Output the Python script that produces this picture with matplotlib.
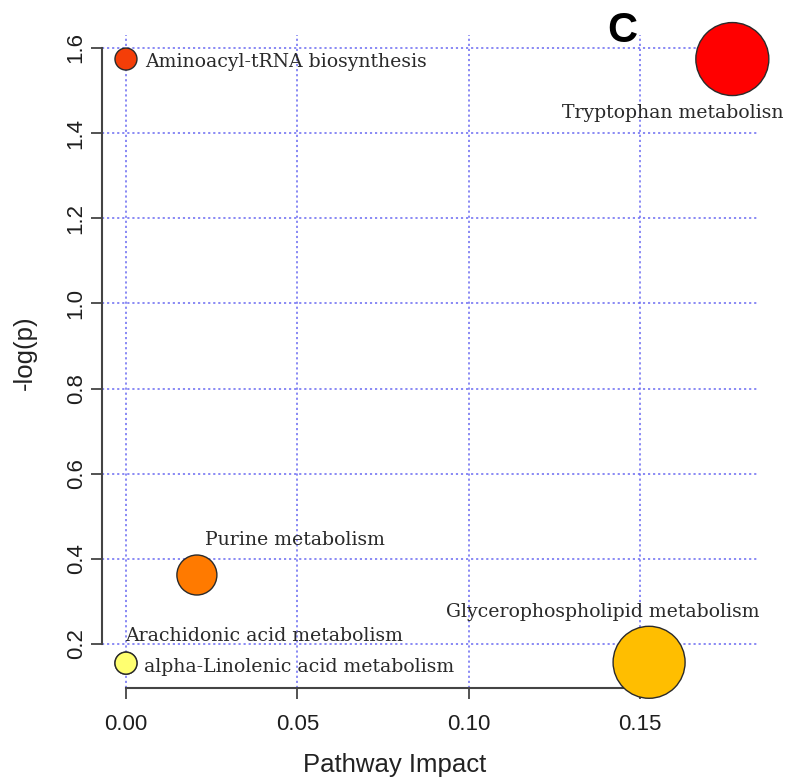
import matplotlib
matplotlib.use("Agg")
import matplotlib.pyplot as plt

# pathway impact / -log(p) results
pathways = [
    "Aminoacyl-tRNA biosynthesis",
    "Tryptophan metabolisn",
    "Purine metabolism",
    "Arachidonic acid metabolism",
    "alpha-Linolenic acid metabolism",
    "Glycerophospholipid metabolism",
]
impact = [0.0, 0.177, 0.0207, 0.0, 0.0, 0.1527]
neg_log_p = [1.574, 1.574, 0.362, 0.155, 0.155, 0.157]

# styling per point
colors = ["#F43E08", "#FF0000", "#FF7A00", "#FFFF70", "#FFFF70", "#FFBE00"]
diam_px = [22, 73, 40, 22, 22, 72]
# label offsets in pixels (dx, dy) and alignment
label_pos = [
    (19, -3, "left", "center"),
    (-60, -54, "center", "center"),
    (98, 35, "center", "center"),
    (-1, 27, "left", "center"),
    (18, -4, "left", "center"),
    (-46, 50, "center", "center"),
]

fig = plt.figure(figsize=(7.85, 7.82), dpi=100)
ax = fig.add_axes([102 / 785, 1 - 688 / 782, 655 / 785, 653 / 782])

px_to_pt = 72 / 100
sizes = [(d * px_to_pt) ** 2 for d in diam_px]
ax.scatter(impact, neg_log_p, s=sizes, c=colors, edgecolors="#2a2a2a",
           linewidths=1.0, zorder=3, clip_on=False)

for name, x, y, (dx, dy, ha, va) in zip(pathways, impact, neg_log_p, label_pos):
    ax.annotate(name, (x, y), xytext=(dx * px_to_pt, dy * px_to_pt),
                textcoords="offset points", ha=ha, va=va,
                fontsize=13.6, family="DejaVu Serif", color="#2a2a2a", zorder=4)

ax.set_xlim(-0.0070, 0.1842)
ax.set_ylim(0.0966, 1.6305)
ax.set_xticks([0.0, 0.05, 0.10, 0.15])
ax.set_xticklabels(["0.00", "0.05", "0.10", "0.15"])
ax.set_yticks([0.2, 0.4, 0.6, 0.8, 1.0, 1.2, 1.4, 1.6])

# R style axes: open box, spines only between first and last tick
for side in ["top", "right"]:
    ax.spines[side].set_visible(False)
ax.spines["left"].set_bounds(0.2, 1.6)
ax.spines["bottom"].set_bounds(0.0, 0.15)
for side in ["left", "bottom"]:
    ax.spines[side].set_color("#444444")
    ax.spines[side].set_linewidth(1.5)

ax.tick_params(axis="both", direction="out", length=8, width=1.3,
               color="#444444", labelsize=16, labelcolor="#1e1e1e")
ax.tick_params(axis="x", pad=11)
ax.tick_params(axis="y", pad=3)
plt.setp(ax.get_yticklabels(), rotation=90, va="center", family="Liberation Sans")
plt.setp(ax.get_xticklabels(), family="Liberation Sans")

ax.grid(True, color="#6a6af2", linestyle=(0, (1.2, 1.6)), linewidth=1.3, alpha=0.85)
ax.set_axisbelow(True)

ax.set_xlabel("Pathway Impact", fontsize=18.5, family="Liberation Sans", color="#222222")
ax.set_ylabel("-log(p)", fontsize=18.5, family="Liberation Sans", color="#222222")
ax.xaxis.set_label_coords((395 - 102) / 655, (688 - 765) / 653)
ax.xaxis.label.set_va("center")
ax.yaxis.set_label_coords((25 - 102) / 655, (688 - 353) / 653)
ax.yaxis.label.set_va("center")

fig.text(622 / 785, 1 - 31 / 782, "C", fontsize=30, fontweight="bold",
         family="Liberation Sans", ha="center", va="center")

fig.savefig("out.png", dpi=100)
